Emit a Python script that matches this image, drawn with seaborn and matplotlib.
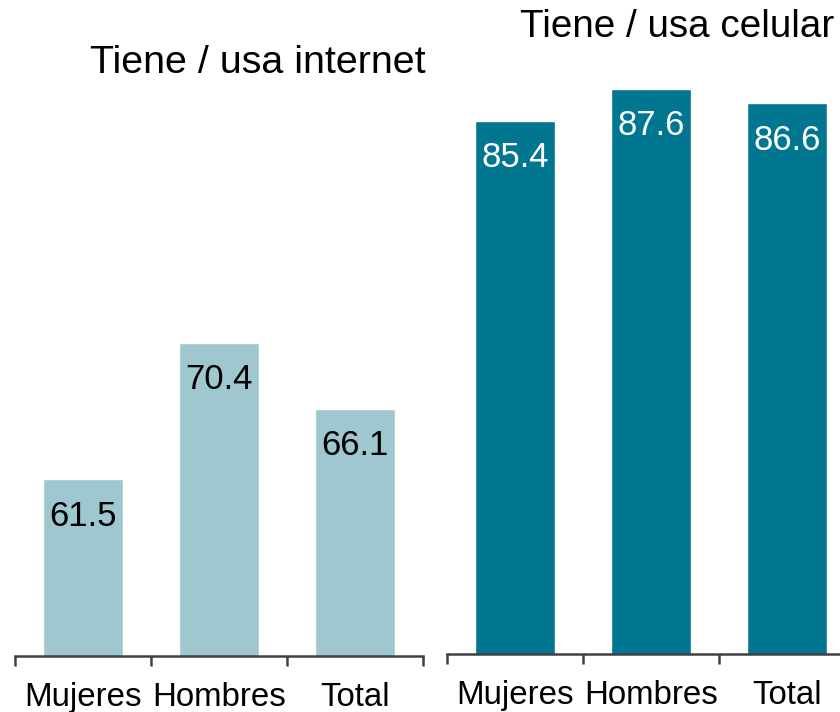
import matplotlib
matplotlib.use("Agg")
import matplotlib.pyplot as plt
import seaborn as sns
import pandas as pd

# Data
categories = ["Mujeres", "Hombres", "Total"]
internet_values = [61.5, 70.4, 66.1]
celular_values = [85.4, 87.6, 86.6]
titles = ["Tiene / usa internet", "Tiene / usa celular"]

LIGHT = "#9fc7cf"
DARK = "#007690"
SPINE = "#404040"

sns.set_style("white")
plt.rcParams["font.family"] = ["Liberation Sans", "DejaVu Sans"]
plt.rcParams["text.color"] = "black"
plt.rcParams["xtick.color"] = SPINE
plt.rcParams["xtick.labelcolor"] = "black"

fig = plt.figure(figsize=(8.4, 7.12), dpi=100)

# axes placed in figure coords; the right panel runs past the right edge like the source
ax_left = fig.add_axes([15 / 840, 56 / 712, 408 / 840, 656 / 712])
ax_right = fig.add_axes([447 / 840, 58 / 712, 408 / 840, 654 / 712])


def draw_panel(ax, values, color, text_color, ylim):
    df = pd.DataFrame({"cat": categories, "val": values})
    sns.barplot(data=df, x="cat", y="val", color=color, width=0.59,
                saturation=1, ax=ax)
    ax.set_ylim(*ylim)
    ax.set_xlim(-0.5, 2.5)
    for i, v in enumerate(values):
        ax.annotate(f"{v:.1f}", xy=(i, v), xytext=(0, -26.5), textcoords="offset points",
                    ha="center", va="center", fontsize=25, color=text_color)
    for s in ["top", "right", "left"]:
        ax.spines[s].set_visible(False)
    ax.spines["bottom"].set_color(SPINE)
    ax.spines["bottom"].set_linewidth(1.8)
    ax.set_yticks([])
    ax.set_xlabel("")
    ax.set_ylabel("")
    ax.set_xticks([0, 1, 2])
    ax.set_xticklabels(categories, fontsize=23.8, color="black")
    ax.tick_params(axis="x", which="major", length=0, pad=19)
    # ticks sit between the categories
    ax.set_xticks([-0.5, 0.5, 1.5, 2.5], minor=True)
    ax.tick_params(axis="x", which="minor", bottom=True, length=7.5, width=1.8,
                   color=SPINE, direction="out")
    ax.patch.set_alpha(0)


draw_panel(ax_left, internet_values, LIGHT, "black", (50, 50 + 656 / 15.36))
draw_panel(ax_right, celular_values, DARK, "white", (48.1, 48.1 + 654 / 14.3))

fig.text(258 / 840, 1 - 63 / 712, titles[0], ha="center", va="center",
         fontsize=28.4, color="black")
fig.text(520 / 840, 1 - 27 / 712, titles[1], ha="left", va="center",
         fontsize=27.8, color="black")

fig.savefig("out.png", dpi=100)
